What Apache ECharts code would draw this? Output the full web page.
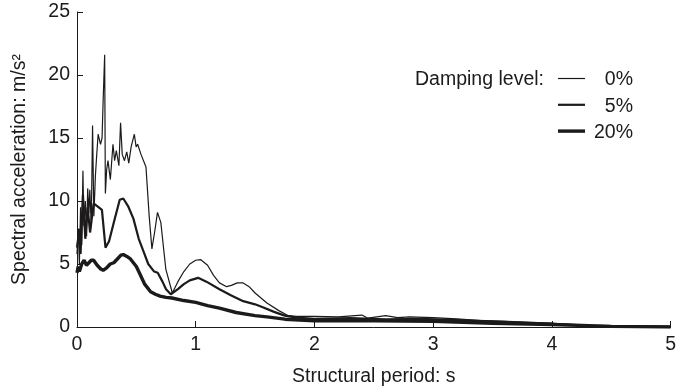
<!DOCTYPE html>
<html>
<head>
<meta charset="utf-8">
<script src="https://cdn.jsdelivr.net/npm/echarts@6/dist/echarts.min.js"></script>
<style>
  html, body { margin: 0; padding: 0; background: #fff; }
  #chart { width: 679px; height: 392px; }
</style>
</head>
<body>
<div id="chart"></div>
<script>
// Response spectra of one record at three damping levels.
// Structural period (s) and spectral acceleration (m/s²) for each level.
const period0 = [0, 0.01, 0.02, 0.03, 0.04, 0.05, 0.058, 0.07, 0.081, 0.09, 0.1, 0.108, 0.12, 0.131, 0.142, 0.155, 0.165, 0.178, 0.198, 0.211, 0.219, 0.233, 0.239, 0.25, 0.261, 0.281, 0.303, 0.317, 0.331, 0.353, 0.367, 0.381, 0.4, 0.419, 0.436, 0.456, 0.483, 0.498, 0.511, 0.539, 0.581, 0.608, 0.631, 0.655, 0.678, 0.706, 0.748, 0.803, 0.85, 0.9, 0.95, 1.0, 1.04, 1.1, 1.15, 1.2, 1.26, 1.3, 1.35, 1.4, 1.45, 1.5, 1.6, 1.7, 1.78, 1.85, 2.0, 2.2, 2.4, 2.45, 2.6, 2.7, 2.8, 3.0, 3.2, 3.4, 3.6, 3.8, 4.0, 4.2, 4.5, 4.8, 5.0];
const accel0 = [5.8, 7.8, 5.0, 9.5, 6.5, 12.4, 8.0, 10.0, 7.2, 11.0, 9.0, 10.9, 8.0, 16.0, 8.8, 12.0, 13.5, 15.3, 14.5, 15.0, 17.6, 21.6, 10.6, 12.5, 13.2, 11.7, 14.5, 13.2, 14.0, 12.8, 16.2, 13.7, 13.2, 13.9, 13.0, 14.3, 15.3, 14.3, 14.5, 13.7, 12.7, 8.8, 6.2, 7.6, 9.1, 8.3, 4.6, 2.7, 3.6, 4.4, 5.0, 5.3, 5.35, 4.9, 4.1, 3.5, 3.2, 3.3, 3.5, 3.5, 3.2, 2.7, 1.9, 1.3, 0.9, 0.85, 0.85, 0.8, 0.95, 0.7, 0.9, 0.75, 0.8, 0.75, 0.65, 0.5, 0.45, 0.35, 0.3, 0.15, 0.05, 0.05, 0.05];

const period5 = [0, 0.02, 0.03, 0.05, 0.07, 0.09, 0.11, 0.14, 0.17, 0.21, 0.24, 0.27, 0.31, 0.36, 0.39, 0.43, 0.475, 0.52, 0.56, 0.6, 0.65, 0.68, 0.72, 0.75, 0.79, 0.85, 0.9, 0.95, 1.02, 1.09, 1.2, 1.3, 1.4, 1.5, 1.57, 1.66, 1.75, 1.85, 2.0, 2.3, 2.6, 2.9, 3.2, 3.5, 3.8, 4.0, 4.3, 4.6, 5.0];
const accel5 = [6.3, 7.8, 5.8, 10.5, 7.0, 9.5, 7.5, 9.8, 9.6, 9.3, 6.3, 6.8, 8.3, 10.1, 10.2, 9.6, 8.6, 7.0, 6.0, 5.0, 4.4, 4.3, 3.6, 3.0, 2.6, 3.0, 3.4, 3.7, 3.9, 3.6, 3.0, 2.5, 2.05, 1.8, 1.55, 1.2, 0.9, 0.75, 0.65, 0.7, 0.6, 0.65, 0.55, 0.45, 0.35, 0.25, 0.12, 0.05, 0.02];

const period20 = [0, 0.01, 0.02, 0.04, 0.06, 0.08, 0.1, 0.12, 0.14, 0.17, 0.2, 0.22, 0.25, 0.28, 0.31, 0.34, 0.37, 0.39, 0.42, 0.45, 0.5, 0.53, 0.57, 0.62, 0.66, 0.7, 0.75, 0.8, 0.9, 1.0, 1.1, 1.2, 1.34, 1.5, 1.6, 1.75, 2.0, 2.5, 3.0, 3.5, 4.0, 4.5, 5.0];
const accel20 = [4.3, 4.8, 4.4, 5.0, 5.3, 4.9, 5.1, 5.3, 5.3, 4.9, 4.6, 4.5, 4.7, 5.0, 5.1, 5.4, 5.7, 5.75, 5.6, 5.4, 4.8, 4.2, 3.4, 2.8, 2.6, 2.45, 2.35, 2.3, 2.1, 1.95, 1.7, 1.5, 1.15, 0.9, 0.8, 0.62, 0.5, 0.5, 0.45, 0.3, 0.2, 0.05, 0];

const dampingLabels = ['0%', '5%', '20%'];
const xTicks = [0, 1, 2, 3, 4, 5];
const yTicks = [0, 5, 10, 15, 20, 25];

const ink = '#1c1a1b';
const font = '"Liberation Sans", Arial, sans-serif';
const fs = 19.5;
const widths = [1.2, 2.2, 3.4];

function pairs(xs, ys) { return xs.map((x, i) => [x, ys[i]]); }
const seriesData = [pairs(period0, accel0), pairs(period5, accel5), pairs(period20, accel20)];

const chart = echarts.init(document.getElementById('chart'), null, { renderer: 'canvas' });

// Legend drawn as plain shapes so the heading sits beside the first entry.
const legendTop = 78.5, legendGap = 26.3;
const legendGraphics = [{
  type: 'text', x: 415, y: legendTop + 1.5,
  style: { text: 'Damping level:', font: fs + 'px ' + font, fill: ink, verticalAlign: 'middle' }
}];
dampingLabels.forEach((lab, i) => {
  const y = legendTop + i * legendGap;
  legendGraphics.push({
    type: 'line', shape: { x1: 558, y1: y, x2: 585, y2: y },
    style: { stroke: ink, lineWidth: widths[i] }
  });
  legendGraphics.push({
    type: 'text', x: 633, y: y + 1.5,
    style: { text: lab, font: fs + 'px ' + font, fill: ink, align: 'right', verticalAlign: 'middle' }
  });
});

chart.setOption({
  animation: false,
  backgroundColor: '#fff',
  grid: { left: 77, right: 2, top: 12, bottom: 59, containLabel: false },
  xAxis: {
    type: 'value', min: xTicks[0], max: xTicks[xTicks.length - 1], interval: 1,
    name: 'Structural period: s', nameLocation: 'middle', nameGap: 40,
    nameTextStyle: { fontSize: fs, fontFamily: font, color: ink },
    axisLine: { show: true, lineStyle: { color: ink, width: 1 } },
    axisTick: { show: true, inside: true, length: 6, lineStyle: { color: ink } },
    axisLabel: { fontSize: fs, fontFamily: font, color: ink, margin: 8 },
    splitLine: { show: false }
  },
  yAxis: {
    type: 'value', min: yTicks[0], max: yTicks[yTicks.length - 1], interval: 5,
    name: 'Spectral acceleration: m/s²', nameLocation: 'middle', nameGap: 47,
    nameTextStyle: { fontSize: fs, fontFamily: font, color: ink },
    axisLine: { show: true, lineStyle: { color: ink, width: 1 } },
    axisTick: { show: true, inside: true, length: 6, lineStyle: { color: ink } },
    axisLabel: { fontSize: fs, fontFamily: font, color: ink, margin: 7 },
    splitLine: { show: false }
  },
  series: dampingLabels.map((lab, i) => ({
    name: lab, type: 'line', data: seriesData[i],
    showSymbol: false, smooth: false, z: 3 - i,
    lineStyle: { color: ink, width: widths[i] }
  })),
  graphic: legendGraphics
});
</script>
</body>
</html>
